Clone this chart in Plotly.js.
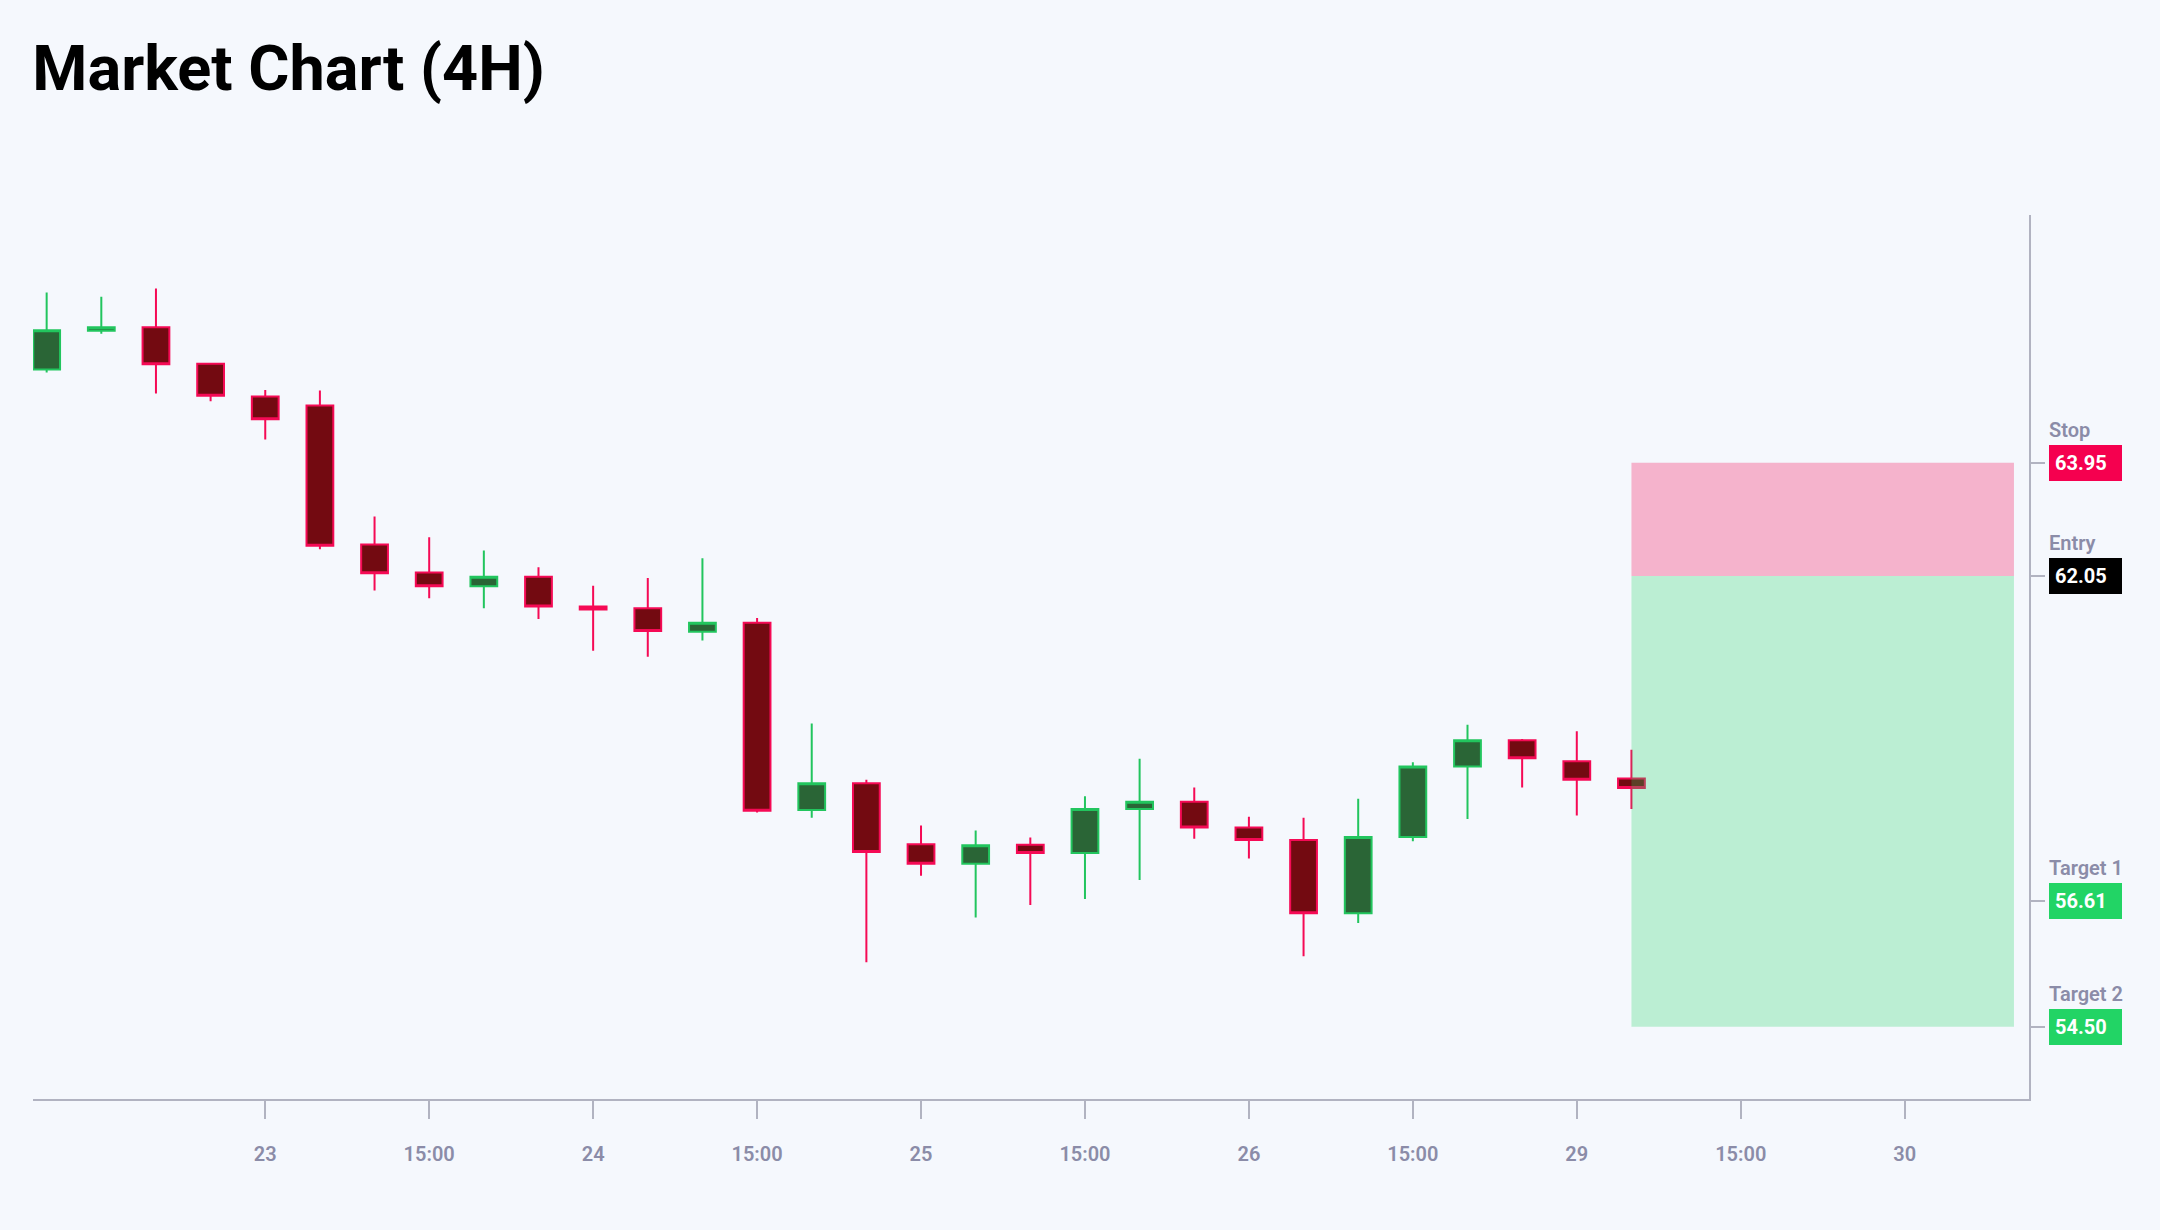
<!DOCTYPE html>
<html>
<head>
<meta charset="utf-8">
<script src="https://cdn.plot.ly/plotly-3.0.1.min.js"></script>
<style>
  html, body { margin: 0; padding: 0; background: #f5f8fd; }
  #chart { width: 2160px; height: 1230px; }
</style>
</head>
<body>
<div id="chart"></div>
<script>
// 4H candles, weekend (27-28) skipped
const times = [
  '2024-01-22 08:00', '2024-01-22 12:00', '2024-01-22 16:00', '2024-01-22 20:00',
  '2024-01-23 00:00', '2024-01-23 04:00', '2024-01-23 08:00', '2024-01-23 12:00', '2024-01-23 16:00', '2024-01-23 20:00',
  '2024-01-24 00:00', '2024-01-24 04:00', '2024-01-24 08:00', '2024-01-24 12:00', '2024-01-24 16:00', '2024-01-24 20:00',
  '2024-01-25 00:00', '2024-01-25 04:00', '2024-01-25 08:00', '2024-01-25 12:00', '2024-01-25 16:00', '2024-01-25 20:00',
  '2024-01-26 00:00', '2024-01-26 04:00', '2024-01-26 08:00', '2024-01-26 12:00', '2024-01-26 16:00', '2024-01-26 20:00',
  '2024-01-29 00:00', '2024-01-29 04:00'
];
const opens  = [65.51, 66.16, 66.22, 65.61, 65.06, 64.91, 62.58, 62.11, 61.88, 62.04,
                61.54, 61.51, 61.12, 61.27, 58.13, 58.58, 57.56, 57.23, 57.55, 57.41,
                58.15, 58.27, 57.84, 57.63, 56.40, 57.68, 58.86, 59.30, 58.95, 58.66];
const highs  = [66.80, 66.73, 66.87, 65.61, 65.17, 65.16, 63.05, 62.70, 62.48, 62.20,
                61.89, 62.02, 62.35, 61.35, 59.58, 58.64, 57.87, 57.79, 57.67, 58.36,
                58.99, 58.51, 58.02, 58.00, 58.32, 58.93, 59.56, 59.32, 59.45, 59.14];
const lows   = [65.46, 66.11, 65.11, 64.98, 64.34, 62.50, 61.81, 61.68, 61.51, 61.33,
                60.80, 60.70, 60.97, 58.09, 58.00, 55.58, 57.03, 56.33, 56.54, 56.64,
                56.96, 57.65, 57.32, 55.68, 56.24, 57.61, 57.98, 58.51, 58.04, 58.15];
const closes = [66.17, 66.22, 65.60, 65.07, 64.68, 62.56, 62.10, 61.88, 62.04, 61.54,
                61.49, 61.13, 61.27, 58.12, 58.58, 57.43, 57.23, 57.54, 57.41, 58.15,
                58.27, 57.84, 57.63, 56.40, 57.68, 58.86, 59.30, 59.00, 58.64, 58.50];

const tickVals = ['2024-01-23 00:00', '2024-01-23 12:00', '2024-01-24 00:00', '2024-01-24 12:00',
                  '2024-01-25 00:00', '2024-01-25 12:00', '2024-01-26 00:00', '2024-01-26 12:00',
                  '2024-01-29 00:00', '2024-01-29 12:00', '2024-01-30 00:00'];
const tickText = ['23', '15:00', '24', '15:00', '25', '15:00', '26', '15:00', '29', '15:00', '30'];

// trade levels
const levelNames  = ['Stop', 'Entry', 'Target 1', 'Target 2'];
const levelValues = [63.95, 62.05, 56.61, 54.50];
const levelColors = ['#f5004f', '#000000', '#22d465', '#22d465'];

const zoneStart = '2024-01-29 04:00';
const zoneEnd = '2024-01-30 08:00';

const labelGrey = '#8b8ca8';
const axisGrey = '#b1b3c1';

const candles = {
  type: 'candlestick',
  x: times,
  open: opens,
  high: highs,
  low: lows,
  close: closes,
  increasing: { line: { color: '#22c55e', width: 2 }, fillcolor: '#2a6536' },
  decreasing: { line: { color: '#f50a55', width: 2 }, fillcolor: '#730a11' },
  hoverinfo: 'skip',
  showlegend: false
};

const annotations = [];
levelNames.forEach((name, i) => {
  annotations.push({
    xref: 'paper', x: 1, xanchor: 'left', xshift: 18,
    yref: 'y', y: levelValues[i], yshift: 33,
    text: name, showarrow: false,
    font: { family: 'Roboto', size: 20, color: labelGrey, weight: 600 }
  });
  annotations.push({
    xref: 'paper', x: 1, xanchor: 'left', xshift: 20,
    yref: 'y', y: levelValues[i],
    text: levelValues[i].toFixed(2), showarrow: false,
    bgcolor: levelColors[i], borderwidth: 0, borderpad: 6,
    width: 61, align: 'left',
    font: { family: 'Roboto', size: 20, color: '#ffffff', weight: 700 }
  });
});

const layout = {
  width: 2160,
  height: 1230,
  paper_bgcolor: '#f5f8fd',
  plot_bgcolor: '#f5f8fd',
  margin: { l: 33, r: 131, t: 215, b: 131 },
  title: {
    text: 'Market Chart (4H)',
    xref: 'container', x: 0.01495, xanchor: 'left',
    yref: 'container', y: 0.9447, yanchor: 'middle',
    font: { family: 'Roboto', size: 63, color: '#000000', weight: 700 }
  },
  showlegend: false,
  xaxis: {
    type: 'date',
    range: ['2024-01-22 07:00', '2024-01-30 09:06'],
    rangebreaks: [{ bounds: ['sat', 'mon'] }],
    rangeslider: { visible: false },
    tickmode: 'array',
    tickvals: tickVals,
    ticktext: tickText,
    ticks: 'outside', ticklen: 18, tickwidth: 2, tickcolor: axisGrey,
    ticklabelstandoff: 18,
    showline: true, linecolor: axisGrey, linewidth: 2,
    showgrid: false, zeroline: false,
    tickfont: { family: 'Roboto', size: 20, color: labelGrey, weight: 600 }
  },
  yaxis: {
    side: 'right',
    range: [53.29, 68.10],
    tickmode: 'array',
    tickvals: levelValues,
    showticklabels: false,
    ticks: 'outside', ticklen: 14, tickwidth: 2, tickcolor: axisGrey,
    showline: true, linecolor: axisGrey, linewidth: 2,
    showgrid: false, zeroline: false
  },
  shapes: [
    {
      type: 'rect', xref: 'x', yref: 'y', layer: 'above',
      x0: zoneStart, x1: zoneEnd, y0: levelValues[1], y1: levelValues[0],
      fillcolor: 'rgb(245,0,80)', opacity: 0.28, line: { width: 0 }
    },
    {
      type: 'rect', xref: 'x', yref: 'y', layer: 'above',
      x0: zoneStart, x1: zoneEnd, y0: levelValues[3], y1: levelValues[1],
      fillcolor: 'rgb(34,212,101)', opacity: 0.27, line: { width: 0 }
    }
  ],
  annotations: annotations
};

Plotly.newPlot('chart', [candles], layout, { displayModeBar: false, staticPlot: true });
</script>
</body>
</html>
